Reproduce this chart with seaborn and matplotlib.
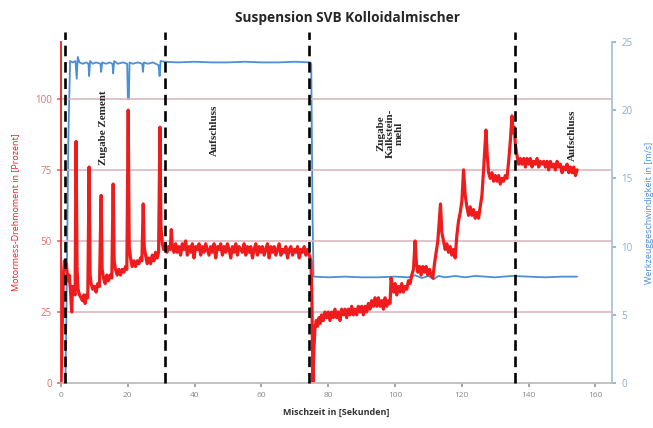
import matplotlib
matplotlib.use("Agg")
import matplotlib.pyplot as plt
import seaborn as sns
import numpy as np
import pandas as pd

# Motormess-Drehmoment (Prozent), (Sekunde, Wert)
torque_cement = [(0, 0), (0.3, 18), (0.7, 38), (1.0, 43), (1.3, 40), (1.6, 42), (2.0, 36), (2.4, 38),
                 (2.8, 33), (3.2, 25), (3.4, 34), (3.8, 33), (4.2, 31), (4.5, 85), (4.8, 40), (5.1, 33),
                 (5.5, 31), (6.0, 30), (6.4, 29), (6.8, 31), (7.2, 28), (7.6, 31), (8.0, 30), (8.4, 76),
                 (8.7, 38), (9.0, 35), (9.5, 33), (10.0, 34), (10.5, 32), (11.0, 35), (11.5, 34), (12.0, 66),
                 (12.3, 40), (12.7, 37), (13.2, 35), (13.7, 38), (14.2, 36), (14.7, 38), (15.2, 37), (15.6, 70),
                 (15.9, 43), (16.3, 40), (16.8, 38), (17.3, 40), (17.8, 38), (18.3, 40), (18.8, 39), (19.3, 41),
                 (19.7, 40), (20.1, 96), (20.4, 48), (20.8, 44), (21.3, 41), (21.8, 43), (22.3, 41), (22.8, 43),
                 (23.3, 42), (23.8, 44), (24.2, 43), (24.6, 63), (24.9, 48), (25.3, 45), (25.8, 42), (26.3, 44),
                 (26.8, 42), (27.3, 45), (27.8, 43), (28.3, 46), (28.8, 44), (29.2, 46), (29.6, 90), (29.9, 55),
                 (30.3, 49), (30.7, 47)]
torque_mix1 = [(31.2, 49), (31.7, 46), (32.2, 48), (32.7, 47), (33.0, 54), (33.3, 48), (33.8, 46), (34.3, 49),
               (34.8, 46), (35.3, 48), (35.8, 45), (36.3, 49), (36.8, 47), (37.3, 50), (37.8, 45), (38.3, 48),
               (38.8, 46), (39.3, 49), (39.8, 44), (40.3, 48), (40.8, 47), (41.3, 49), (41.8, 45), (42.3, 48),
               (42.8, 46), (43.3, 49), (43.8, 47), (44.3, 45), (44.8, 48), (45.3, 46), (45.8, 49), (46.3, 44),
               (46.8, 48), (47.3, 47), (47.8, 49), (48.3, 45), (48.8, 48), (49.3, 46), (49.8, 49), (50.3, 47),
               (50.8, 44), (51.3, 48), (51.8, 46), (52.3, 49), (52.8, 45), (53.3, 48), (53.8, 47), (54.3, 46),
               (54.8, 49), (55.3, 45), (55.8, 48), (56.3, 46), (56.8, 48), (57.3, 44), (57.8, 47), (58.3, 49),
               (58.8, 45), (59.3, 48), (59.8, 46), (60.3, 48), (60.8, 45), (61.3, 47), (61.8, 49), (62.3, 44),
               (62.8, 48), (63.3, 46), (63.8, 48), (64.3, 45), (64.8, 47), (65.3, 49), (65.8, 45), (66.3, 47),
               (66.8, 46), (67.3, 48), (67.8, 44), (68.3, 47), (68.8, 48), (69.3, 45), (69.8, 47), (70.3, 46),
               (70.8, 48), (71.3, 44), (71.8, 47), (72.3, 46), (72.8, 48), (73.3, 45), (73.8, 47), (74.3, 45),
               (74.8, 43), (75.1, 30), (75.4, 0)]
torque_limestone = [(75.7, 12), (76.0, 19), (76.4, 22), (76.8, 20), (77.2, 23), (77.6, 21), (78.0, 24),
                    (78.5, 22), (79.0, 25), (79.5, 23), (80.0, 25), (80.5, 22), (81.0, 25), (81.5, 23),
                    (82.0, 26), (82.5, 23), (83.0, 25), (83.5, 22), (84.0, 26), (84.5, 24), (85.0, 26),
                    (85.5, 23), (86.0, 26), (86.5, 24), (87.0, 27), (87.5, 24), (88.0, 26), (88.5, 24),
                    (89.0, 27), (89.5, 25), (90.0, 27), (90.5, 24), (91.0, 27), (91.5, 25), (92.0, 28),
                    (92.5, 26), (93.0, 29), (93.5, 27), (94.0, 30), (94.5, 27), (95.0, 30), (95.5, 27),
                    (96.0, 29), (96.5, 26), (97.0, 30), (97.5, 27), (98.0, 29), (98.5, 28), (98.8, 37),
                    (99.2, 34), (99.6, 32), (100.0, 35), (100.5, 31), (101.0, 34), (101.5, 32), (102.0, 35),
                    (102.5, 32), (103.0, 34), (103.5, 33), (104.0, 36), (104.5, 35), (105.0, 38), (105.5, 40),
                    (106.0, 50), (106.4, 42), (106.8, 39), (107.3, 41), (107.8, 38), (108.3, 41), (108.8, 39),
                    (109.3, 41), (109.8, 38), (110.3, 40), (110.8, 38), (111.3, 37), (111.8, 42), (112.3, 46),
                    (112.8, 50), (113.3, 58), (113.6, 63), (114.0, 53), (114.5, 50), (115.0, 47), (115.5, 49),
                    (116.0, 46), (116.5, 48), (117.0, 45), (117.5, 47), (118.0, 44), (118.5, 52), (119.0, 57),
                    (119.5, 60), (120.0, 64), (120.5, 75), (121.0, 66), (121.5, 62), (122.0, 59), (122.5, 62),
                    (123.0, 59), (123.5, 61), (124.0, 58), (124.5, 60), (125.0, 58), (125.5, 62), (126.0, 66),
                    (126.5, 75), (127.2, 89), (127.6, 80), (128.0, 74), (128.5, 72), (129.0, 74), (129.5, 71),
                    (130.0, 73), (130.5, 71), (131.0, 73), (131.5, 70), (132.0, 72), (132.5, 71), (133.0, 73),
                    (133.5, 72), (134.0, 78), (134.5, 85)]
torque_mix2 = [(135.0, 94), (135.3, 88), (135.7, 90), (136.0, 84), (136.5, 80), (137.0, 77), (137.5, 79),
               (138.0, 77), (138.5, 79), (139.0, 76), (139.5, 79), (140.0, 77), (140.5, 79), (141.0, 76),
               (141.5, 78), (142.0, 77), (142.5, 79), (143.0, 76), (143.5, 78), (144.0, 77), (144.5, 78),
               (145.0, 76), (145.5, 78), (146.0, 75), (146.5, 78), (147.0, 76), (147.5, 77), (148.0, 75),
               (148.5, 78), (149.0, 76), (149.5, 77), (150.0, 74), (150.5, 76), (151.0, 75), (151.5, 77),
               (152.0, 74), (152.5, 76), (153.0, 74), (153.5, 76), (154.0, 73), (154.5, 75)]

# Werkzeuggeschwindigkeit (m/s)
speed_points = [(0, 0), (1.3, 0), (1.6, 5), (2.2, 18), (2.7, 23.6), (3.5, 23.5), (4.3, 23.6), (4.7, 22.3),
                (5.0, 23.9), (5.5, 23.5), (6.5, 23.4), (7.5, 23.5), (8.2, 23.4), (8.4, 22.5), (8.7, 23.6),
                (9.5, 23.4), (10.5, 23.5), (11.8, 23.4), (12.0, 22.8), (12.3, 23.5), (13.5, 23.4), (14.5, 23.5),
                (15.4, 23.4), (15.6, 22.7), (15.9, 23.6), (17.0, 23.4), (18.5, 23.5), (19.8, 23.4), (20.0, 20.8),
                (20.3, 20.8), (20.5, 23.5), (21.5, 23.4), (23.0, 23.5), (24.3, 23.4), (24.5, 22.8), (24.8, 23.5),
                (26.0, 23.4), (27.5, 23.5), (29.2, 23.3), (29.5, 22.5), (29.8, 23.6), (31.0, 23.55), (35.0, 23.5),
                (40.0, 23.55), (45.0, 23.5), (50.0, 23.5), (55.0, 23.55), (60.0, 23.5), (65.0, 23.5),
                (70.0, 23.55), (74.5, 23.5), (74.9, 23.4), (75.3, 12.0), (75.6, 7.8), (80.0, 7.75), (85.0, 7.8),
                (90.0, 7.75), (95.0, 7.75), (100.0, 7.8), (104.0, 7.75), (106.0, 7.9), (108.0, 7.7),
                (110.0, 7.85), (111.5, 7.6), (113.0, 7.85), (115.0, 7.75), (118.0, 7.85), (121.0, 7.75),
                (124.0, 7.85), (127.0, 7.8), (130.0, 7.75), (135.0, 7.85), (140.0, 7.8), (145.0, 7.75),
                (150.0, 7.8), (154.5, 7.8)]

phase_lines = [1.2, 31.0, 74.3, 136.0]
phase_labels = ["Zugabe Zement", "Aufschluss", "Zugabe\nKalkstein-\nmehl", "Aufschluss"]
phase_label_x = [12.8, 46.0, 98.5, 153.0]
phase_label_y = [90, 89, 88, 87]

torque = pd.DataFrame(torque_cement + torque_mix1 + torque_limestone + torque_mix2, columns=["t", "v"])
speed = pd.DataFrame(speed_points, columns=["t", "v"])

sns.set_theme(style="white")
plt.rcParams["font.family"] = ["Open Sans", "DejaVu Sans"]

red = "#ee1c1c"
blue = "#4a8fd8"

fig = plt.figure(figsize=(6.53, 4.28), dpi=100)
ax = fig.add_axes([0.0935, 0.105, 0.844, 0.797])
ax2 = ax.twinx()

# horizontal gridlines of the torque axis
for yv in [25, 50, 75, 100]:
    ax.axhline(yv, color="#d9b3bb", lw=1.1, zorder=0)

sns.lineplot(data=speed, x="t", y="v", ax=ax2, color=blue, lw=1.3, zorder=3, sort=False)
sns.lineplot(data=torque, x="t", y="v", ax=ax, color=red, lw=2.3, zorder=2, sort=False)

# phase boundaries
for xv in phase_lines:
    ax.axvline(xv, ymin=0, ymax=1.03, color="black", lw=1.9, dashes=(4, 2.2), clip_on=False, zorder=4)

for lx, ly, txt in zip(phase_label_x, phase_label_y, phase_labels):
    ax.text(lx, ly, txt, rotation=90, ha="center", va="center", fontsize=8, linespacing=1.05,
            family=["Liberation Serif", "DejaVu Serif"], fontweight="bold", multialignment="center")

ax.set_xlim(0, 165)
ax.set_ylim(0, 120)
ax2.set_ylim(0, 25)
ax.set_xticks([0, 20, 40, 60, 80, 100, 120, 140, 160])
ax.set_yticks([0, 25, 50, 75, 100])
ax2.set_yticks([0, 5, 10, 15, 20, 25])
ax.set_zorder(ax2.get_zorder() + 1)
ax.patch.set_visible(False)

ax.tick_params(axis="x", colors="#9a9a9a", labelsize=6, length=3, direction="out", bottom=True)
ax.tick_params(axis="y", colors="#e07070", labelsize=7, length=3, left=True)
ax2.tick_params(axis="y", colors="#8aaed6", labelsize=7, length=3, right=True)
for lab in ax.get_xticklabels():
    lab.set_color("#888888")

ax.spines["top"].set_visible(False)
ax2.spines["top"].set_visible(False)
ax.spines["left"].set_color(red)
ax.spines["left"].set_linewidth(1.3)
ax.spines["bottom"].set_color("#bdbdbd")
ax.spines["bottom"].set_linewidth(1.3)
ax.spines["right"].set_visible(False)
ax2.spines["left"].set_visible(False)
ax2.spines["bottom"].set_visible(False)
ax2.spines["right"].set_color("#a9c2dc")
ax2.spines["right"].set_linewidth(1.3)

ax.set_xlabel("Mischzeit in [Sekunden]", fontsize=6.5, fontweight="bold", color="#333333", labelpad=6)
ax.set_ylabel("Motormess-Drehmoment in [Prozent]", fontsize=6.5, color=red, labelpad=11)
ax2.set_ylabel("Werkzeuggeschwindigkeit in [m/s]", fontsize=6.5, color="#4a8fd8", labelpad=9)
ax.set_title("Suspension SVB Kolloidalmischer", fontsize=9.8, fontweight="bold", pad=14, x=0.52)

fig.savefig("out.png", dpi=100)
